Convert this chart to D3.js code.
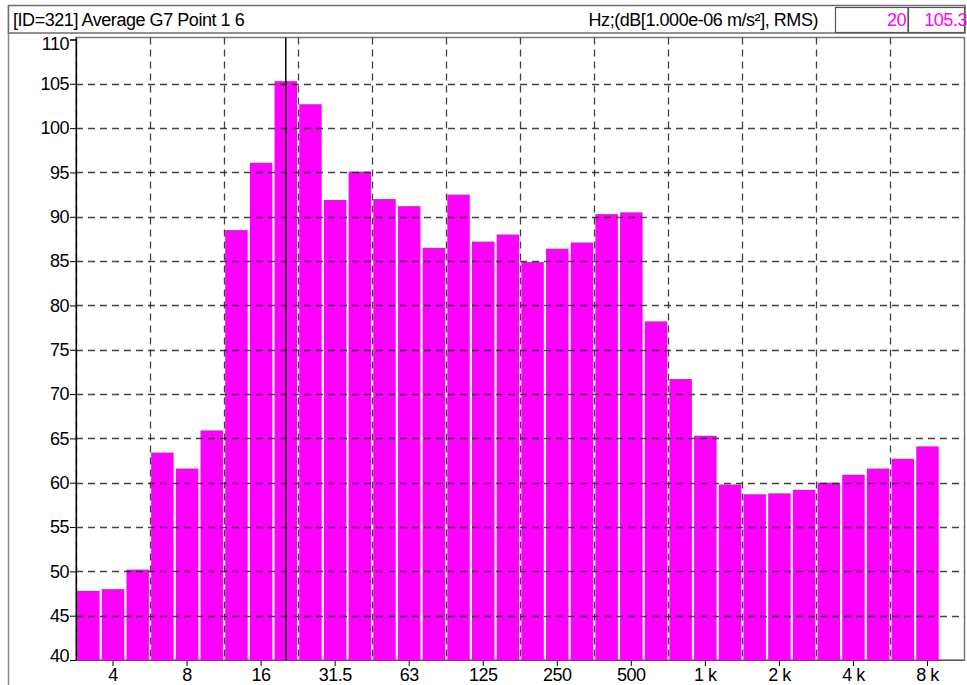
<!DOCTYPE html>
<html>
<head>
<meta charset="utf-8">
<script src="https://cdn.jsdelivr.net/npm/d3@7/dist/d3.min.js"></script>
<style>
  html, body { margin: 0; padding: 0; background: #fff; }
  svg { display: block; font-family: "Liberation Sans", Arial, sans-serif; }
</style>
</head>
<body>
<svg id="chart" width="967" height="685"></svg>
<script>
// One-third octave band centres (Hz) shown on the band axis
const bands = ["3.15","4","5","6.3","8","10","12.5","16","20","25","31.5","40","50","63","80","100",
  "125","160","200","250","315","400","500","630","800","1000","1250","1600","2000","2500",
  "3150","4000","5000","6300","8000","10000"];

// Band levels, dB re 1e-6 m/s² RMS (10 kHz band has no value)
const levels = [47.8, 48.0, 50.2, 63.4, 61.6, 65.9, 88.5, 96.1, 105.3, 102.7, 91.9, 95.1, 92.0, 91.2,
  86.5, 92.5, 87.2, 88.0, 84.9, 86.4, 87.1, 90.3, 90.5, 78.2, 71.7, 65.3, 59.8, 58.7, 58.8, 59.2,
  60.0, 60.9, 61.6, 62.7, 64.1, null];

// Octave tick positions and their labels
const tickBands = ["4","8","16","31.5","63","125","250","500","1000","2000","4000","8000"];
const tickLabels = ["4","8","16","31.5","63","125","250","500","1 k","2 k","4 k","8 k"];

// Bands whose lower edge carries a vertical grid line
const gridBands = ["3.15","6.3","12.5","25","50","100","200","400","800","1600","3150","6300"];

// Level axis ticks
const yTicks = [40, 45, 50, 55, 60, 65, 70, 75, 80, 85, 90, 95, 100, 105, 110];

// Cursor readout
const cursorBand = "20";
const cursorValue = 105.3;

const titleText = "[ID=321] Average G7 Point 1 6";
const unitText = "Hz;(dB[1.000e-06 m/s²], RMS)";

const FONT = "Liberation Sans, Arial, sans-serif";
const FS = 18;

const svg = d3.select("#chart");
const plotLeft = 76, plotRight = 964.5, plotTop = 39.5, plotBottom = 660;
const frameTop = 37.5;

const pad = 0.09;
const x = d3.scaleBand().domain(bands).range([plotLeft, plotRight]).paddingInner(pad).paddingOuter(pad / 2);
const y = d3.scaleLinear().domain([40, 110]).range([plotBottom, plotTop]);
const step = x.step();
const edge = b => x(b) - step * pad / 2;
const centre = b => x(b) + x.bandwidth() / 2;

// Outer window frame
svg.append("line").attr("x1", 8.5).attr("x2", 8.5).attr("y1", 5).attr("y2", 685)
  .attr("stroke", "#8a8a8a").attr("stroke-width", 1.5);

// Header bar
svg.append("rect").attr("x", 8.5).attr("y", 5.5).attr("width", 956.5).attr("height", 27.5)
  .attr("fill", "#fff").attr("stroke", "#6e6e6e").attr("stroke-width", 1.5);
svg.append("text").attr("x", 13).attr("y", 26).attr("font-size", FS).attr("letter-spacing", -0.45)
  .attr("fill", "#000").text(titleText);
svg.append("text").attr("x", 818).attr("y", 26).attr("font-size", FS).attr("letter-spacing", -0.45)
  .attr("text-anchor", "end").attr("fill", "#000").text(unitText);

// Readout boxes
svg.append("rect").attr("x", 835.5).attr("y", 7.5).attr("width", 72.5).attr("height", 25)
  .attr("fill", "#fff").attr("stroke", "#555").attr("stroke-width", 1.2);
svg.append("rect").attr("x", 908.5).attr("y", 7.5).attr("width", 56).attr("height", 25)
  .attr("fill", "#fff").attr("stroke", "#555").attr("stroke-width", 1.2);
svg.append("text").attr("x", 906).attr("y", 26).attr("font-size", FS).attr("letter-spacing", -0.45)
  .attr("text-anchor", "end").attr("fill", "#ff00ff").text(cursorBand);
svg.append("text").attr("x", 967).attr("y", 26).attr("font-size", FS).attr("letter-spacing", -0.45)
  .attr("text-anchor", "end").attr("fill", "#ff00ff").text(cursorValue.toFixed(1));

// Plot frame
svg.append("rect").attr("x", plotLeft).attr("y", frameTop).attr("width", plotRight - plotLeft)
  .attr("height", plotBottom - frameTop)
  .attr("fill", "#fff").attr("stroke", "#7a7a7a").attr("stroke-width", 1.5);

// Bars
svg.append("g").selectAll("rect")
  .data(bands.map((b, i) => ({ b, v: levels[i] })).filter(d => d.v != null))
  .join("rect")
  .attr("x", d => x(d.b))
  .attr("width", x.bandwidth())
  .attr("y", d => y(d.v))
  .attr("height", d => y(40) - y(d.v))
  .attr("fill", "#ff00ff");

// Horizontal grid (dashed, over bars)
svg.append("g").selectAll("line")
  .data(yTicks.filter(t => t > 40 && t < 110))
  .join("line")
  .attr("x1", plotLeft).attr("x2", plotRight)
  .attr("y1", d => Math.round(y(d)) + 0.5).attr("y2", d => Math.round(y(d)) + 0.5)
  .attr("stroke", "#222").attr("stroke-opacity", 0.85).attr("stroke-width", 1.3)
  .attr("stroke-dasharray", "7,5");

// Vertical grid at octave band edges
svg.append("g").selectAll("line")
  .data(gridBands)
  .join("line")
  .attr("x1", d => Math.round(edge(d)) + 0.5).attr("x2", d => Math.round(edge(d)) + 0.5)
  .attr("y1", frameTop).attr("y2", plotBottom)
  .attr("stroke", "#222").attr("stroke-opacity", 0.85).attr("stroke-width", 1.3)
  .attr("stroke-dasharray", "7,5");

// Cursor line
svg.append("line")
  .attr("x1", centre(cursorBand)).attr("x2", centre(cursorBand))
  .attr("y1", frameTop).attr("y2", plotBottom)
  .attr("stroke", "#000").attr("stroke-width", 1.5);

// Level axis
const yAxis = d3.axisLeft(y).tickValues(yTicks).tickSize(6).tickPadding(1).tickFormat(d3.format("d"));
const gy = svg.append("g").attr("transform", `translate(${plotLeft},0)`).call(yAxis);
gy.select(".domain").attr("stroke", "#000").attr("stroke-width", 1.2);
gy.selectAll(".tick line").attr("stroke", "#000");
gy.selectAll(".tick text").attr("font-size", FS).attr("letter-spacing", -0.5)
  .attr("font-family", FONT).attr("fill", "#000");
gy.selectAll(".tick").filter(d => d === 40).select("text").attr("dy", "0.1em");
gy.selectAll(".tick").filter(d => d === 110).select("text").attr("dy", "0.55em");

// Frequency axis
const xAxis = d3.axisBottom(x).tickValues(tickBands).tickSize(6).tickPadding(2)
  .tickFormat((d, i) => tickLabels[i]);
const gx = svg.append("g").attr("transform", `translate(0,${plotBottom})`).call(xAxis);
gx.select(".domain").remove();
gx.selectAll(".tick line").attr("stroke", "#000");
gx.selectAll(".tick text").attr("font-size", FS).attr("letter-spacing", -0.5)
  .attr("font-family", FONT).attr("fill", "#000");
svg.append("line").attr("x1", plotLeft).attr("x2", plotRight).attr("y1", plotBottom + 0.5).attr("y2", plotBottom + 0.5)
  .attr("stroke", "#555").attr("stroke-width", 1.2);
</script>
</body>
</html>
